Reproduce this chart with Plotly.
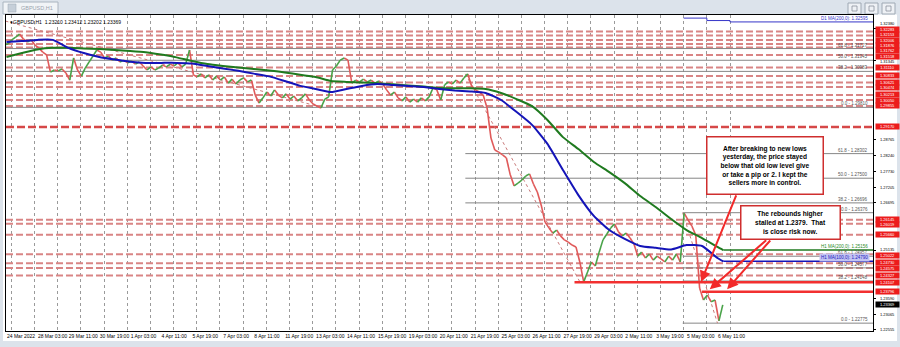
import plotly.graph_objects as go

# ---------------- data ----------------
STEP = 4  # H1 bars per drawn price point
first_open = 1.3185
close = [
    1.3188, 1.3201, 1.3210, 1.3220, 1.3204, 1.3194, 1.3201, 1.3184, 1.3175, 1.3161,
    1.3152, 1.3096, 1.3103, 1.3100, 1.3106, 1.3093, 1.3070, 1.3142, 1.3103, 1.3083,
    1.3109, 1.3129, 1.3148, 1.3168, 1.3161, 1.3142, 1.3148, 1.3135, 1.3142, 1.3129,
    1.3135, 1.3126, 1.3132, 1.3122, 1.3129, 1.3116, 1.3103, 1.3113, 1.3103, 1.3109,
    1.3119, 1.3113, 1.3122, 1.3116, 1.3126, 1.3113, 1.3122, 1.3168, 1.3087, 1.3080,
    1.3090, 1.3077, 1.3087, 1.3070, 1.3083, 1.3070, 1.3080, 1.3060, 1.3073, 1.3057,
    1.3070, 1.3077, 1.3064, 1.3070, 1.3021, 1.2995, 1.3012, 1.3031, 1.3018, 1.3038,
    1.3021, 1.3012, 1.3025, 1.3008, 1.3018, 1.3002, 1.3012, 1.3025, 1.3005, 1.2992,
    1.2985, 1.2979, 1.3008, 1.3015, 1.3103, 1.3116, 1.3135, 1.3142, 1.3135, 1.3060,
    1.3070, 1.3064, 1.3073, 1.3064, 1.3070, 1.3060, 1.3067, 1.3057, 1.3038, 1.3021,
    1.3031, 1.3012, 1.3002, 1.3015, 1.2998, 1.3008, 1.2998, 1.3012, 1.3002, 1.3015,
    1.3044, 1.3038, 1.3005, 1.3054, 1.3064, 1.3057, 1.3070, 1.3060, 1.3077, 1.3090,
    1.3051, 1.3038, 1.3031, 1.3021, 1.2979, 1.2881, 1.2842, 1.2835, 1.2826, 1.2816,
    1.2761, 1.2725, 1.2734, 1.2744, 1.2757, 1.2764, 1.2731, 1.2705, 1.2663, 1.2607,
    1.2588, 1.2571, 1.2581, 1.2562, 1.2549, 1.2542, 1.2532, 1.2526, 1.2477, 1.2412,
    1.2444, 1.2477, 1.2464, 1.2509, 1.2549, 1.2568, 1.2588, 1.2601, 1.2575, 1.2562,
    1.2571, 1.2555, 1.2536, 1.2496, 1.2509, 1.2490, 1.2503, 1.2483, 1.2496, 1.2487,
    1.2477, 1.2496, 1.2483, 1.2503, 1.2477, 1.2636, 1.2614, 1.2594, 1.2565, 1.2392,
    1.2353, 1.2369, 1.2347, 1.2353, 1.2285, 1.2337,
]

ma_bars = list(range(0, 737, 16)) + [742]
ma100 = [
    1.3194, 1.3197, 1.3201, 1.3201, 1.3175, 1.3158, 1.3145, 1.3137, 1.3130, 1.3126,
    1.3126, 1.3126, 1.3124, 1.3116, 1.3108, 1.3100, 1.3091, 1.3082, 1.3067, 1.3051,
    1.3041, 1.3031, 1.3041, 1.3051, 1.3057, 1.3054, 1.3051, 1.3047, 1.3041, 1.3036,
    1.3033, 1.3028, 1.3005, 1.2966, 1.2924, 1.2862, 1.2777, 1.2695, 1.2627, 1.2581,
    1.2552, 1.2529, 1.2523, 1.2518, 1.2532, 1.2529, 1.2490, 1.24790,
]
ma200 = [
    1.3145, 1.3158, 1.3170, 1.3175, 1.3175, 1.3173, 1.3171, 1.3168, 1.3165, 1.3161,
    1.3153, 1.3144, 1.3132, 1.3122, 1.3116, 1.3111, 1.3106, 1.3101, 1.3095, 1.3087,
    1.3080, 1.3067, 1.3064, 1.3062, 1.3060, 1.3056, 1.3052, 1.3049, 1.3044, 1.3043,
    1.3043, 1.3041, 1.3028, 1.3008, 1.2985, 1.2940, 1.2884, 1.2845, 1.2803, 1.2770,
    1.2734, 1.2692, 1.2656, 1.2617, 1.2581, 1.2555, 1.2526, 1.25156,
]

d1_bars = [701, 725, 749]
d1_ma = [1.32720, 1.32640, 1.32595]

red_levels = [1.32283, 1.32153, 1.32006, 1.31876, 1.31762, 1.31518, 1.31110,
              1.30833, 1.30621, 1.30474, 1.30213, 1.30050, 1.29855,
              1.26145, 1.26019, 1.25660, 1.25022, 1.24730, 1.24575, 1.24327]
heavy_level = 1.29170
support_levels = [1.24107, 1.23796]
support_start = [588, 720]

fib1_anchor = [(-31, 1.32880), (326, 1.29810)]
fib1_ratios = ["0.0", "38.2", "50.0", "61.8"]
fib1_levels = [1.29810, 1.30983, 1.31345, 1.31727]
fib2_anchor = [(475, 1.30902), (594, 1.24097)]
fib2_ratios = ["38.2", "50.0", "61.8"]
fib2_levels = [1.26696, 1.27500, 1.28302]
fib3_anchor = [(700, 1.26376), (736, 1.22775)]
fib3_ratios = ["0.0", "38.2", "50.0", "61.8", "100.0"]
fib3_levels = [1.22775, 1.24148, 1.24577, 1.24957, 1.26376]

xtick_bars = [32 * j for j in range(24)]
xtick_text = ["24 Mar 2022", "28 Mar 03:00", "29 Mar 11:00", "30 Mar 19:00", "1 Apr 03:00",
              "4 Apr 11:00", "5 Apr 19:00", "7 Apr 03:00", "8 Apr 11:00", "11 Apr 19:00",
              "13 Apr 03:00", "14 Apr 11:00", "15 Apr 19:00", "19 Apr 03:00", "20 Apr 11:00",
              "21 Apr 19:00", "25 Apr 03:00", "26 Apr 11:00", "27 Apr 19:00", "29 Apr 03:00",
              "2 May 11:00", "3 May 19:00", "5 May 03:00", "6 May 11:00"]
day_start_bars = [5 + 24 * k for k in range(32)]
ytick_vals = [1.22555, 1.23065, 1.23590, 1.25135, 1.26695, 1.27205, 1.27730,
              1.28240, 1.28765, 1.31345, 1.32380]
last_price = 1.23369
header = "\u25BEGBPUSD,H1  1.23210 1.23412 1.23202 1.23369"

note1 = ("After breaking to new lows<br>yesterday, the price stayed<br>below that old low level give"
         "<br>or take a pip or 2. I kept the<br>sellers more in control.")
note2 = "The rebounds higher<br>stalled at 1.2379.  That<br>is close risk now."

# ---------------- layout constants ----------------
X0, X1 = -0.5, 897
Y0, Y1 = 1.22519, 1.32821
FONT = "Liberation Sans"
W, H, ML, MR, MT, MB = 900, 347, 6, 27, 15, 16
PW, PH = W - ML - MR, H - MT - MB
LABEL_GAP = 5.4  # px between stacked price-axis labels


def px(xp):
    return (xp - ML) / PW


def py(yp):
    return (H - MB - yp) / PH


def price_to_px(p):
    return MT + (Y1 - p) / (Y1 - Y0) * PH


fig = go.Figure()

# red dashed levels
xs, ys = [], []
for lv in red_levels:
    xs += [X0, X1, None]
    ys += [lv, lv, None]
fig.add_trace(go.Scatter(x=xs, y=ys, mode="lines", hoverinfo="skip",
                         line=dict(color="#d98585", width=2, dash="7px,3px")))
fig.add_trace(go.Scatter(x=[X0, X1], y=[heavy_level, heavy_level], mode="lines", hoverinfo="skip",
                         line=dict(color="#d64848", width=2.5, dash="8px,3px")))

# fibonacci levels and dotted trend lines
for anchor, levels in [(fib1_anchor, fib1_levels), (fib2_anchor, fib2_levels), (fib3_anchor, fib3_levels)]:
    xs, ys = [], []
    start = max(anchor[0][0], X0)
    for lv in levels:
        xs += [start, X1, None]
        ys += [lv, lv, None]
    fig.add_trace(go.Scatter(x=xs, y=ys, mode="lines", hoverinfo="skip",
                             line=dict(color="#868686", width=1)))
    fig.add_trace(go.Scatter(x=[anchor[0][0], anchor[1][0]], y=[anchor[0][1], anchor[1][1]],
                             mode="lines", hoverinfo="skip",
                             line=dict(color="#c97a7a", width=1, dash="dot")))

# price path: segments coloured by direction (up green, down red)
bars = [STEP * i + 1.5 for i in range(len(close))]
opens = [first_open] + close[:-1]
prev_bars = [bars[0] - STEP] + bars[:-1]
ux, uy, dx, dy = [], [], [], []
for xb, xp, o, c in zip(bars, prev_bars, opens, close):
    if c >= o:
        ux += [xp, xb, None]
        uy += [o, c, None]
    else:
        dx += [xp, xb, None]
        dy += [o, c, None]
fig.add_trace(go.Scatter(x=dx, y=dy, mode="lines", hoverinfo="skip",
                         line=dict(color="#e05a5a", width=1.6)))
fig.add_trace(go.Scatter(x=ux, y=uy, mode="lines", hoverinfo="skip",
                         line=dict(color="#49a349", width=1.6)))

# moving averages
fig.add_trace(go.Scatter(x=ma_bars, y=ma200, mode="lines", hoverinfo="skip",
                         line=dict(color="#1f7a1f", width=2, shape="spline", smoothing=0.5)))
fig.add_trace(go.Scatter(x=ma_bars, y=ma100, mode="lines", hoverinfo="skip",
                         line=dict(color="#1414b8", width=2, shape="spline", smoothing=0.5)))
fig.add_trace(go.Scatter(x=[ma_bars[-1], X1], y=[ma200[-1]] * 2, mode="lines", hoverinfo="skip",
                         line=dict(color="#1f7a1f", width=1.5)))
fig.add_trace(go.Scatter(x=[ma_bars[-1], X1], y=[ma100[-1]] * 2, mode="lines", hoverinfo="skip",
                         line=dict(color="#1414b8", width=1.5)))
fig.add_trace(go.Scatter(x=d1_bars + [X1], y=d1_ma + [d1_ma[-1]], mode="lines", hoverinfo="skip",
                         line=dict(color="#3535c8", width=1, shape="hv")))

# thick support lines
for lv, st in zip(support_levels, support_start):
    fig.add_trace(go.Scatter(x=[st, X1], y=[lv, lv], mode="lines", hoverinfo="skip",
                             line=dict(color="#f23030", width=2.5)))

ann = []
# ---- price-axis labels (black grid prices, red object boxes, current price), decluttered ----
axis_labels = [(v, "white", "black") for v in ytick_vals]
axis_labels += [(v, "#ec1c1c", "white") for v in red_levels + [heavy_level] + support_levels]
axis_labels += [(last_price, "black", "white")]
axis_labels.sort(key=lambda t: price_to_px(t[0]))
pos = [price_to_px(t[0]) for t in axis_labels]
for _ in range(200):
    moved = False
    for k in range(len(pos) - 1):
        d = pos[k + 1] - pos[k]
        if d < LABEL_GAP:
            push = (LABEL_GAP - d) / 2 + 0.01
            pos[k] -= push
            pos[k + 1] += push
            moved = True
    if not moved:
        break
for (v, bg, fg), yp in zip(axis_labels, pos):
    ann.append(dict(x=1, xref="paper", xanchor="left", xshift=2, y=v, yref="y",
                    yshift=price_to_px(v) - yp, text=f"{v:.5f}", showarrow=False,
                    bgcolor=bg if bg != "white" else "rgba(0,0,0,0)", borderpad=0,
                    font=dict(family=FONT, size=4, color=fg), width=23))

# fib labels
for ratios, levels in [(fib1_ratios, fib1_levels), (fib2_ratios, fib2_levels), (fib3_ratios, fib3_levels)]:
    for r, lv in zip(ratios, levels):
        ann.append(dict(x=1, xref="paper", xanchor="right", xshift=-3, y=lv, yref="y",
                        yanchor="bottom", yshift=-1, text=f"{r} - {lv:.5f}", showarrow=False,
                        font=dict(family=FONT, size=4.5, color="#555555")))
# MA labels
ann.append(dict(x=1, xref="paper", xanchor="right", xshift=-3, y=ma200[-1], yref="y", yanchor="bottom",
                yshift=-1, text=f"H1 MA(200,0): {ma200[-1]:.5f}", showarrow=False,
                font=dict(family=FONT, size=4.5, color="#1f8a1f")))
ann.append(dict(x=1, xref="paper", xanchor="right", xshift=-3, y=ma100[-1], yref="y", yanchor="bottom",
                yshift=-1, text=f"H1 MA(100,0): {ma100[-1]:.5f}", showarrow=False, bgcolor="#c4c4f2",
                font=dict(family=FONT, size=4.5, color="#2020c0")))
ann.append(dict(x=1, xref="paper", xanchor="right", xshift=-3, y=d1_ma[-1], yref="y", yanchor="bottom",
                yshift=-1, text=f"D1 MA(200,0): {d1_ma[-1]:.5f}", showarrow=False,
                font=dict(family=FONT, size=4.5, color="#3535c8")))
# header
ann.append(dict(x=px(8), xref="paper", xanchor="left", y=1, yref="paper", yanchor="top", yshift=-2,
                text=header, showarrow=False, font=dict(family=FONT, size=5, color="black")))
# arrows
arrows = [((719, 1.2412), (756, 1.26986)),
          ((728, 1.2388), (788, 1.25519)),
          ((746, 1.2388), (792, 1.25519))]
for (hx, hy), (tx, ty) in arrows:
    ann.append(dict(x=hx, y=hy, xref="x", yref="y", ax=tx, ay=ty, axref="x", ayref="y",
                    text="", showarrow=True, arrowhead=2, arrowsize=1.1, arrowwidth=2,
                    arrowcolor="#f22a2a", standoff=0))
# note boxes
ann.append(dict(x=px(764.5), y=py(165), xref="paper", yref="paper", xanchor="center", yanchor="middle",
                text="<b>" + note1 + "</b>",
                showarrow=False, bgcolor="white", bordercolor="#cf2e2e", borderwidth=1.5, borderpad=1,
                width=113, height=54, align="center",
                font=dict(family=FONT, size=6.6, color="black")))
ann.append(dict(x=px(790), y=py(222.5), xref="paper", yref="paper", xanchor="center", yanchor="middle",
                text="<b>" + note2 + "</b>",
                showarrow=False, bgcolor="white", bordercolor="#cf2e2e", borderwidth=1.5, borderpad=1,
                width=96, height=30, align="center",
                font=dict(family=FONT, size=6.6, color="black")))
# window tab text
ann.append(dict(x=px(19), y=py(8), xref="paper", yref="paper", xanchor="left", yanchor="middle",
                text="GBPUSD,H1", showarrow=False, font=dict(family=FONT, size=5.5, color="#9aa3ad")))

frame = "#dce3eb"
shapes = [
    dict(type="rect", xref="paper", yref="paper", x0=px(0), x1=px(900), y0=py(14.5), y1=py(0),
         fillcolor=frame, line=dict(width=0), layer="below"),
    dict(type="rect", xref="paper", yref="paper", x0=px(0), x1=px(3), y0=py(347), y1=py(0),
         fillcolor=frame, line=dict(width=0), layer="below"),
    dict(type="rect", xref="paper", yref="paper", x0=px(897), x1=px(900), y0=py(347), y1=py(0),
         fillcolor=frame, line=dict(width=0), layer="below"),
    dict(type="rect", xref="paper", yref="paper", x0=px(0), x1=px(900), y0=py(347), y1=py(341),
         fillcolor=frame, line=dict(width=0), layer="below"),
    dict(type="rect", xref="paper", yref="paper", x0=px(3), x1=px(58), y0=py(14), y1=py(2),
         fillcolor="#f1f4f7", line=dict(color="#aab4bf", width=1), layer="below"),
    dict(type="rect", xref="paper", yref="paper", x0=px(8), x1=px(16), y0=py(12), y1=py(4),
         fillcolor="#c6cfd9", line=dict(color="#9aa5b1", width=0.5), layer="below"),
]
for bx in [(848, 861), (865, 878), (882, 895)]:
    shapes.append(dict(type="rect", xref="paper", yref="paper", x0=px(bx[0]), x1=px(bx[1]),
                       y0=py(14), y1=py(3), fillcolor="#eef1f5",
                       line=dict(color="#9ea8b3", width=1), layer="below"))
    shapes.append(dict(type="rect", xref="paper", yref="paper", x0=px(bx[0] + 4), x1=px(bx[1] - 4),
                       y0=py(11), y1=py(6), fillcolor="rgba(0,0,0,0)",
                       line=dict(color="#8a939c", width=0.8), layer="below"))

fig.update_layout(
    width=W, height=H, margin=dict(l=ML, r=MR, t=MT, b=MB),
    paper_bgcolor="white", plot_bgcolor="white", showlegend=False,
    annotations=ann, shapes=shapes,
    xaxis=dict(range=[X0, X1], tickmode="array", tickvals=xtick_bars, ticktext=xtick_text,
               ticklabelposition="outside right", tickangle=0, ticks="", showgrid=False,
               zeroline=False, showline=True, linecolor="black", linewidth=1, mirror=True,
               tickfont=dict(family=FONT, size=5, color="black"), fixedrange=True,
               minor=dict(tickmode="array", tickvals=day_start_bars, showgrid=True,
                          gridcolor="#9a9a9a", griddash="dot", gridwidth=1, ticks="")),
    yaxis=dict(range=[Y0, Y1], side="right", tickmode="array", tickvals=ytick_vals,
               showticklabels=False, showgrid=False, zeroline=False,
               showline=True, linecolor="black", linewidth=1, mirror=True,
               ticks="outside", ticklen=2, tickcolor="black", fixedrange=True),
)

fig.write_html("out.html")
